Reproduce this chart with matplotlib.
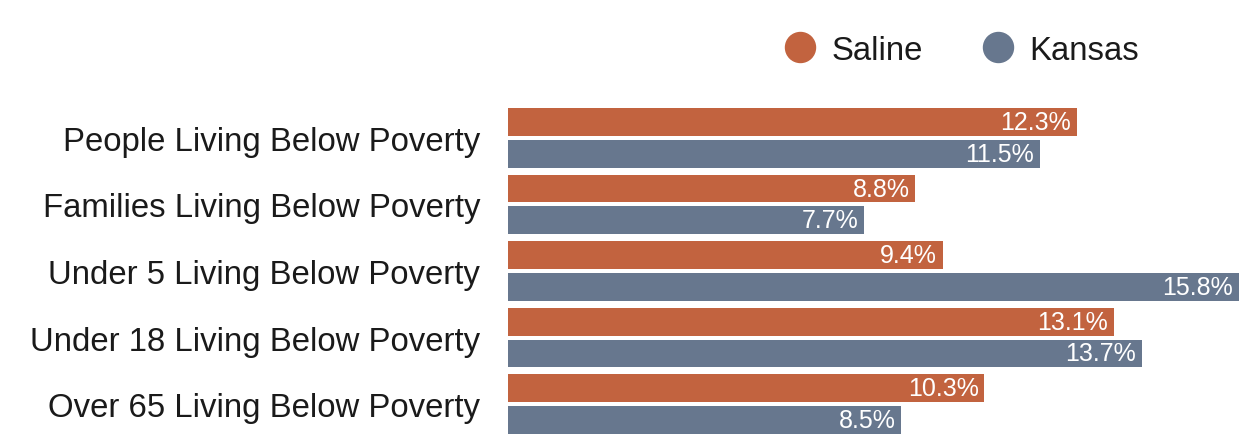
import matplotlib
matplotlib.use("Agg")
import matplotlib.pyplot as plt
from matplotlib.lines import Line2D
import numpy as np

categories = [
    "People Living Below Poverty",
    "Families Living Below Poverty",
    "Under 5 Living Below Poverty",
    "Under 18 Living Below Poverty",
    "Over 65 Living Below Poverty",
]
saline = [12.3, 8.8, 9.4, 13.1, 10.3]
kansas = [11.5, 7.7, 15.8, 13.7, 8.5]
series_names = ["Saline", "Kansas"]

SALINE_COLOR = "#C2633F"
KANSAS_COLOR = "#67778E"
TEXT_COLOR = "#1a1a1a"

plt.rcParams["font.family"] = ["Liberation Sans", "DejaVu Sans"]

W, H = 1248, 435
fig = plt.figure(figsize=(W / 100, H / 100), dpi=100)
fig.patch.set_facecolor("white")

ax_left = 508 / W
ax_bottom = (H - 435) / H
ax_height = (435 - 109) / H
ax = fig.add_axes([ax_left, ax_bottom, 1 - ax_left, ax_height])

y = np.arange(len(categories))
bar_h = 0.42
offset = 0.24

bars_s = ax.barh(y - offset, saline, height=bar_h, color=SALINE_COLOR)
bars_k = ax.barh(y + offset, kansas, height=bar_h, color=KANSAS_COLOR)

for bars, vals in ((bars_s, saline), (bars_k, kansas)):
    for b, v in zip(bars, vals):
        ax.annotate(f"{v:.1f}%", xy=(v, b.get_y() + b.get_height() / 2),
                    xytext=(-4, 0), textcoords="offset points",
                    ha="right", va="center", color="white", fontsize=18)

ax.set_xlim(0, 16)
ax.set_ylim(len(categories) - 1 + offset + bar_h / 2, -offset - bar_h / 2)
ax.set_yticks(y)
ax.set_yticklabels(categories, fontsize=23.7, color=TEXT_COLOR)
ax.tick_params(axis="y", length=0, pad=20)
ax.set_xticks([])
for s in ax.spines.values():
    s.set_visible(False)
ax.set_facecolor("none")

handles = [
    Line2D([], [], marker="o", ls="", markersize=21.6, color=SALINE_COLOR),
    Line2D([], [], marker="o", ls="", markersize=21.6, color=KANSAS_COLOR),
]
fig.legend(handles, series_names, loc="center left",
           bbox_to_anchor=(784 / W, 1 - 51 / H), ncol=2, frameon=False,
           fontsize=23.7, handlelength=1.0, handletextpad=0.45,
           columnspacing=1.78, borderaxespad=0, borderpad=0,
           labelcolor=TEXT_COLOR)

fig.savefig("out.png", dpi=100, facecolor="white")
